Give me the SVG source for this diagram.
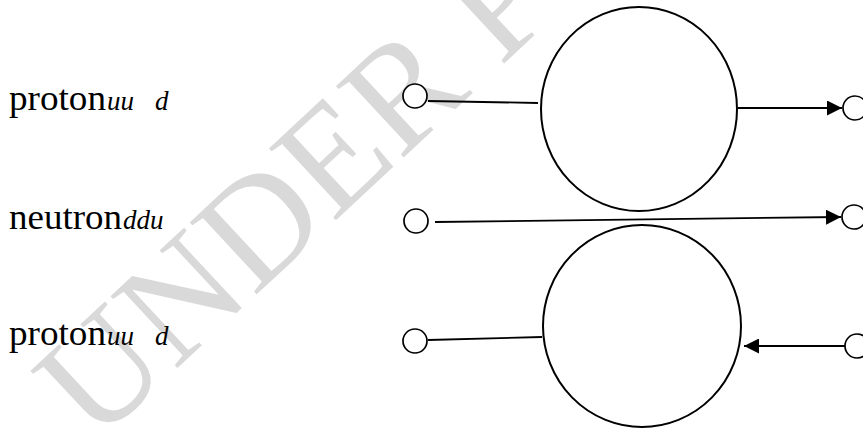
<svg xmlns="http://www.w3.org/2000/svg" width="863" height="428" viewBox="0 0 863 428">
<style>
.bg{fill:#ffffff}
.wm{font-family:"Liberation Serif","Times New Roman",serif;font-size:150px;fill:#d9d9d9}
.lbl{font-family:"Liberation Serif","Times New Roman",serif;font-size:36px;fill:#000}
.q{font-style:italic;font-size:27px}
.big{fill:none;stroke:#000;stroke-width:2}
.port{fill:#fff;stroke:#000;stroke-width:1.7}
.conn{fill:none;stroke:#000;stroke-width:1.8}
</style>
<defs>
<marker id="arr" viewBox="0 0 15 15" refX="15" refY="7.5" markerWidth="15" markerHeight="15" markerUnits="userSpaceOnUse" orient="auto">
<path d="M0,0 L15,7.5 L0,15 Z" fill="#000"/>
</marker>
</defs>
<rect class="bg" x="0" y="0" width="863" height="428"/>
<text class="wm" transform="translate(95,445) rotate(-43)">UNDER P</text>
<g id="labels">
<text id="label-proton-top" class="lbl" x="9" y="110" textLength="97" lengthAdjust="spacingAndGlyphs">proton</text>
<text class="lbl q" x="107" y="110">uu</text>
<text class="lbl q" x="155" y="110">d</text>
<text id="label-neutron" class="lbl" x="9" y="229" textLength="113" lengthAdjust="spacingAndGlyphs">neutron</text>
<text class="lbl q" x="123" y="229">ddu</text>
<text id="label-proton-bottom" class="lbl" x="9" y="345" textLength="97" lengthAdjust="spacingAndGlyphs">proton</text>
<text class="lbl q" x="107" y="345">uu</text>
<text class="lbl q" x="155" y="345">d</text>
</g>
<g id="circle-top"><ellipse class="big" cx="639" cy="109" rx="98" ry="102"/></g>
<g id="circle-bottom"><ellipse class="big" cx="642" cy="326" rx="99" ry="101"/></g>
<g id="port-top-left"><circle class="port" cx="415" cy="96" r="12"/></g>
<g id="port-mid-left"><circle class="port" cx="416" cy="221" r="12"/></g>
<g id="port-bot-left"><circle class="port" cx="415" cy="341" r="12"/></g>
<g id="port-top-right"><circle class="port" cx="855" cy="108" r="12"/></g>
<g id="port-mid-right"><circle class="port" cx="854" cy="217" r="12"/></g>
<g id="port-bot-right"><circle class="port" cx="857" cy="346" r="12"/></g>
<g id="connectors">
<line class="conn" x1="428" y1="101" x2="538" y2="103"/>
<line class="conn" x1="738" y1="108" x2="842" y2="108" marker-end="url(#arr)"/>
<line class="conn" x1="435" y1="222" x2="841" y2="217" stroke-width="2.3" marker-end="url(#arr)"/>
<line class="conn" x1="428" y1="340" x2="542" y2="337"/>
<line class="conn" x1="845" y1="346" x2="744" y2="346" marker-end="url(#arr)"/>
</g>
</svg>
